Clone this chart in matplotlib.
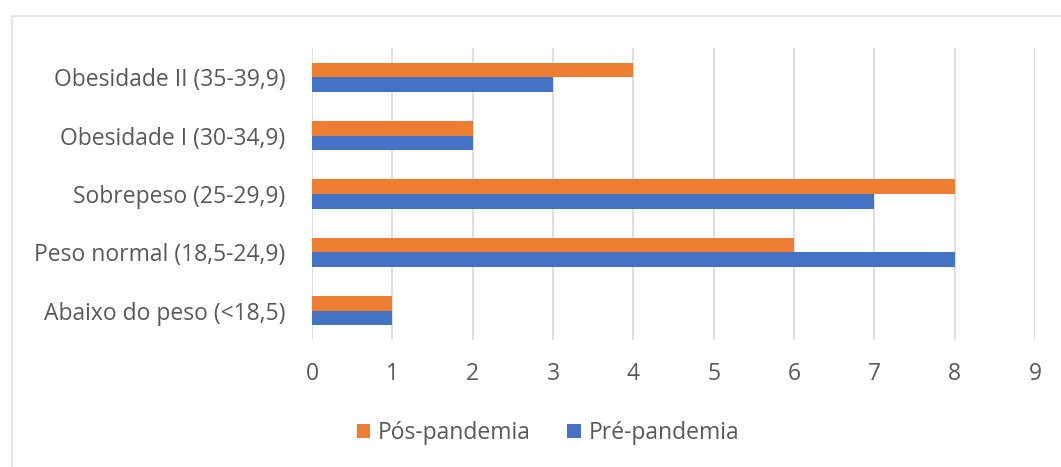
import matplotlib
matplotlib.use("Agg")
import matplotlib.pyplot as plt
import numpy as np
from matplotlib.patches import Rectangle

categories = [
    "Abaixo do peso (<18,5)",
    "Peso normal (18,5-24,9)",
    "Sobrepeso (25-29,9)",
    "Obesidade I (30-34,9)",
    "Obesidade II (35-39,9)",
]
pos_pandemia = [1, 6, 8, 2, 4]
pre_pandemia = [1, 8, 7, 2, 3]
x_ticks = list(range(0, 10))

ORANGE = "#ED7D31"
BLUE = "#4472C4"
TEXT = "#595959"
GRID = "#D9D9D9"
FS = 16.5

plt.rcParams["font.family"] = ["Open Sans", "DejaVu Sans"]

W, H = 1061, 467
fig = plt.figure(figsize=(W / 100, H / 100), dpi=100)
fig.patch.set_facecolor("white")

# chart-area frame (open to the right and bottom)
fig.add_artist(Rectangle((12 / W, -0.1), 1.2, (1 - 16 / H) + 0.1,
                         transform=fig.transFigure, fill=False,
                         edgecolor="#E6E6E6", linewidth=1.5))

ax = fig.add_axes([312 / W, 1 - 340 / H, (1035 - 312) / W, (340 - 48) / H])

y = np.arange(len(categories))
h = 0.25
ax.barh(y + h / 2, pos_pandemia, height=h, color=ORANGE, label="Pós-pandemia", zorder=3)
ax.barh(y - h / 2, pre_pandemia, height=h, color=BLUE, label="Pré-pandemia", zorder=3)

ax.set_xlim(0, 9)
ax.set_ylim(-0.5, len(categories) - 0.5)
ax.set_xticks(x_ticks)
ax.set_xticklabels([str(t) for t in x_ticks])
ax.set_yticks(y)
ax.set_yticklabels(categories)

ax.xaxis.grid(True, color=GRID, linewidth=1.2, zorder=0)
ax.set_axisbelow(True)
for s in ax.spines.values():
    s.set_visible(False)
ax.tick_params(axis="both", length=0, colors=TEXT, labelsize=FS)
ax.tick_params(axis="y", pad=19)
ax.tick_params(axis="x", pad=16)

handles, labels = ax.get_legend_handles_labels()
fig.legend(handles, labels, loc="center", bbox_to_anchor=(548 / W, 1 - 433 / H),
           ncol=2, frameon=False, fontsize=FS, labelcolor=TEXT,
           handlelength=0.57, handleheight=0.57, handletextpad=0.35, columnspacing=1.6)

fig.savefig("out.png", dpi=100, facecolor="white")
